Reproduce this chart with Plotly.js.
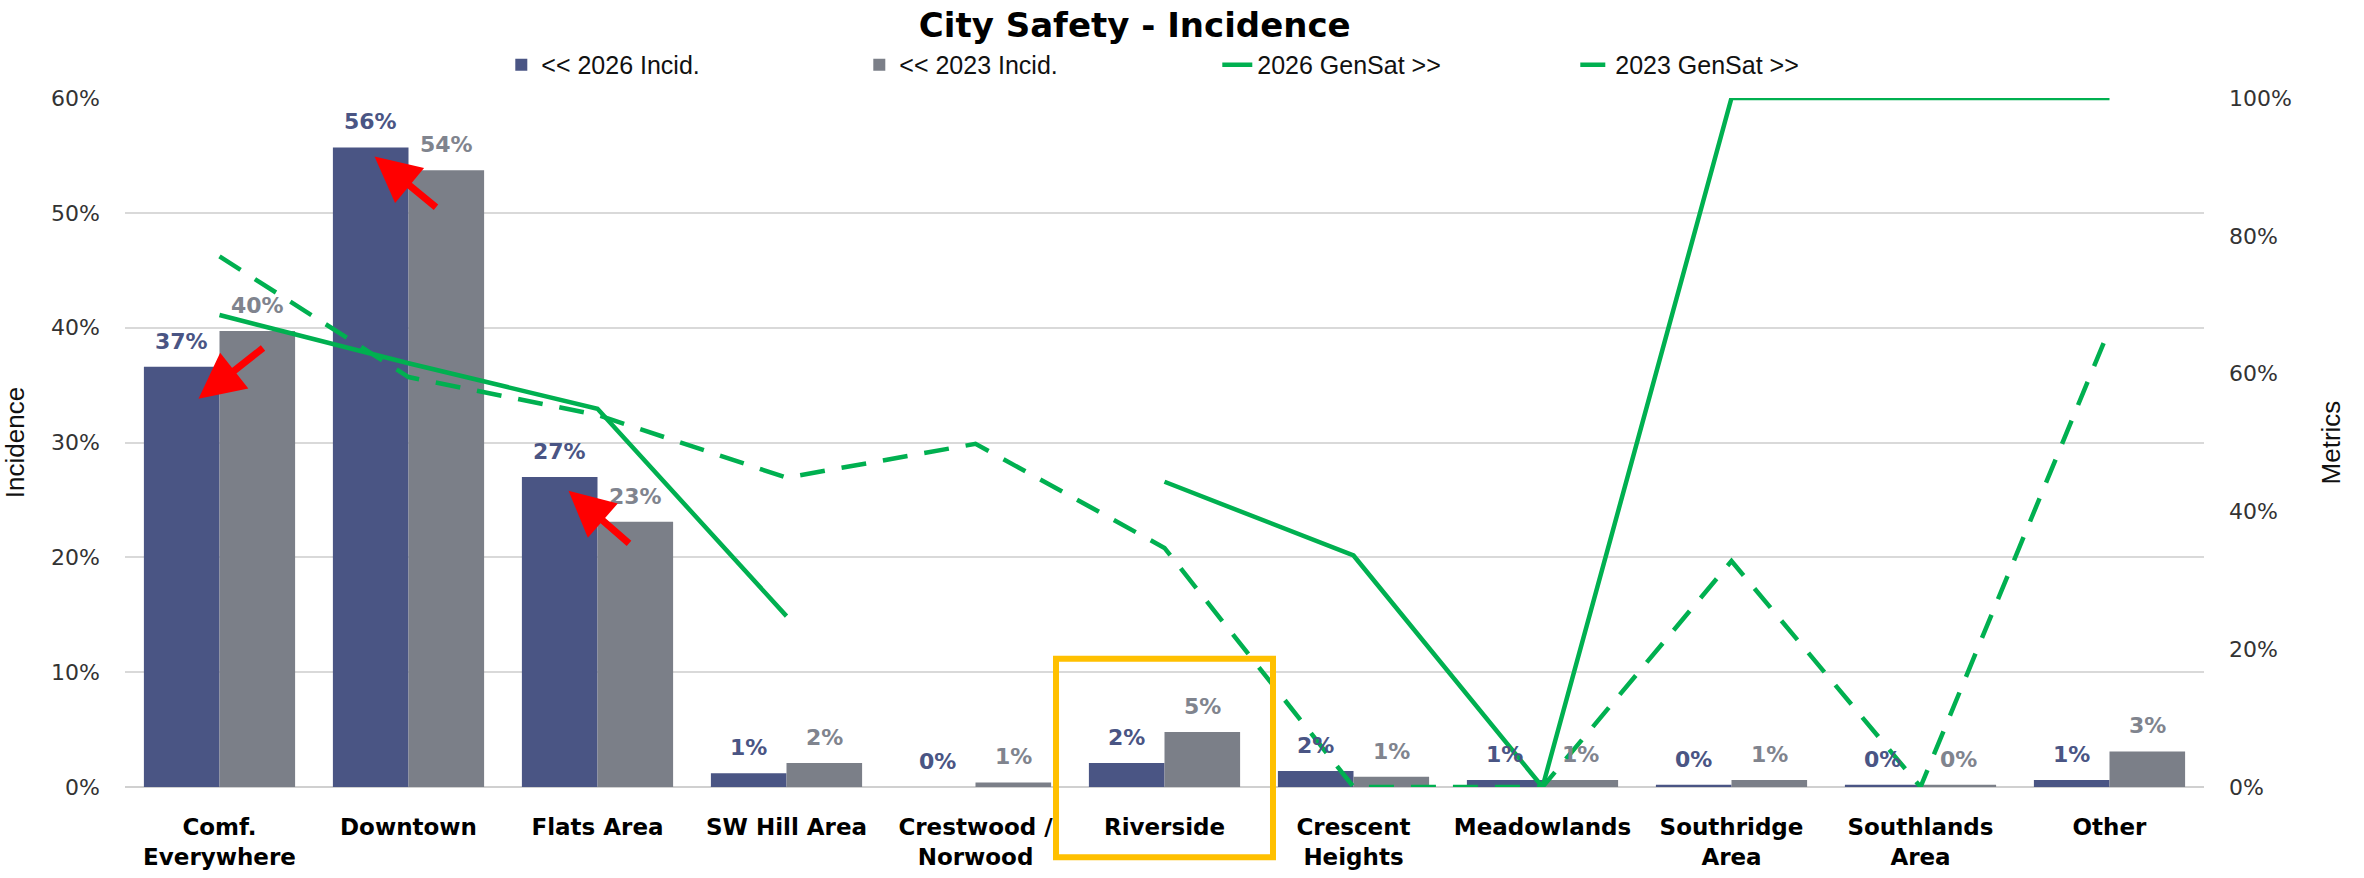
<!DOCTYPE html>
<html>
<head>
<meta charset="utf-8">
<script src="https://cdn.plot.ly/plotly-3.0.1.min.js"></script>
<style>html,body{margin:0;padding:0;background:#fff;}#chart{width:2364px;height:878px;}</style>
</head>
<body>
<div id="chart"></div>
<script>
// ---- data ----
const categories = ['Comf.<br>Everywhere','Downtown','Flats Area','SW Hill Area','Crestwood /<br>Norwood','Riverside','Crescent<br>Heights','Meadowlands','Southridge<br>Area','Southlands<br>Area','Other'];
const incid2026 = [0.366, 0.557, 0.270, 0.012, 0.000, 0.021, 0.014, 0.006, 0.002, 0.002, 0.006];
const incid2023 = [0.397, 0.537, 0.231, 0.021, 0.004, 0.048, 0.009, 0.006, 0.006, 0.002, 0.031];
const labels2026 = ['37%','56%','27%','1%','0%','2%','2%','1%','0%','0%','1%'];
const labels2023 = ['40%','54%','23%','2%','1%','5%','1%','1%','1%','0%','3%'];
const genSat2026 = [0.685, 0.615, 0.549, 0.248, null, 0.443, 0.336, 0.0, 1.0, 1.0, 1.0];
const genSat2023 = [0.770, 0.595, 0.540, 0.449, 0.498, 0.347, 0.0, 0.0, 0.328, 0.0, 0.665];
const leftTicks = [0, 0.1, 0.2, 0.3, 0.4, 0.5, 0.6];
const rightTicks = [0, 0.2, 0.4, 0.6, 0.8, 1.0];

// ---- styles ----
const C26 = '#4A5584', C23 = '#7B7F88', GREEN = '#00B050';
const WIDE = 'DejaVu Sans, Verdana, sans-serif';
const PLAIN = 'Liberation Sans, Arial, sans-serif';

const traces = [
  {type:'bar', name:'<< 2026 Incid.', x:categories, y:incid2026, marker:{color:C26}, yaxis:'y', hoverinfo:'skip'},
  {type:'bar', name:'<< 2023 Incid.', x:categories, y:incid2023, marker:{color:C23}, yaxis:'y', hoverinfo:'skip'},
  {type:'scatter', mode:'lines', name:'2026 GenSat >>', x:categories, y:genSat2026, yaxis:'y2',
   line:{color:GREEN, width:4.5}, connectgaps:false},
  {type:'scatter', mode:'lines', name:'2023 GenSat >>', x:categories, y:genSat2023, yaxis:'y2',
   line:{color:GREEN, width:4.5, dash:'25px,17px'}}
];

const annotations = [];
categories.forEach((c, i) => {
  annotations.push({x:c, y:incid2026[i], xref:'x', yref:'y', text:labels2026[i], showarrow:false,
    xshift:-37.8, yshift:11, yanchor:'bottom', font:{family:WIDE, size:22, color:'#4A5584', weight:'bold'}});
  annotations.push({x:c, y:incid2023[i], xref:'x', yref:'y', text:labels2023[i], showarrow:false,
    xshift:37.8, yshift:11, yanchor:'bottom', font:{family:WIDE, size:22, color:'#80848E', weight:'bold'}});
});
// red arrows (tip at x/y, tail offset ax/ay in px)
const arrowStyle = {text:'', showarrow:true, arrowhead:2, arrowsize:1.3, arrowwidth:7, arrowcolor:'#FF0000', xref:'x', yref:'y', axref:'pixel', ayref:'pixel'};
annotations.push(Object.assign({}, arrowStyle, {x:categories[0], y:0.338, xshift:-21, ax:66, ay:-52}));
annotations.push(Object.assign({}, arrowStyle, {x:categories[1], y:0.549, xshift:-34, ax:63, ay:52}));
annotations.push(Object.assign({}, arrowStyle, {x:categories[2], y:0.258, xshift:-29, ax:62, ay:54}));

const layout = {
  width:2364, height:878,
  margin:{l:125, r:160, t:98, b:91},
  paper_bgcolor:'#fff', plot_bgcolor:'#fff',
  title:{text:'City Safety - Incidence', x:0.48, xanchor:'center', y:0.971, yanchor:'middle',
         font:{family:WIDE, size:34, color:'#000', weight:'bold'}},
  barmode:'group', bargap:0.2, bargroupgap:0,
  showlegend:true,
  legend:{orientation:'h', x:0.181, xanchor:'left', y:1.048, yanchor:'middle',
          font:{family:PLAIN, size:25, color:'#111'}, entrywidth:313, entrywidthmode:'pixels',
          traceorder:'normal', bgcolor:'rgba(0,0,0,0)'},
  xaxis:{type:'category', tickfont:{family:WIDE, size:23, color:'#000', weight:'bold'},
         showline:false, ticks:'', ticklabelstandoff:24, fixedrange:true},
  yaxis:{range:[0,0.6], tickvals:leftTicks, tickformat:'.0%', showgrid:true, gridcolor:'#D9D9D9', gridwidth:2,
         zeroline:true, zerolinecolor:'#D0D0D0', zerolinewidth:2, showline:false, ticks:'',
         tickfont:{family:WIDE, size:22, color:'#333'}, ticklabelstandoff:24,
         title:{text:'Incidence', font:{family:PLAIN, size:26, color:'#111'}, standoff:18}},
  yaxis2:{range:[0,1], tickvals:rightTicks, tickformat:'.0%', overlaying:'y', side:'right', showgrid:false,
          zeroline:false, showline:false, ticks:'', tickfont:{family:WIDE, size:22, color:'#333'}, ticklabelstandoff:24,
          title:{text:'Metrics', font:{family:PLAIN, size:26, color:'#111'}, standoff:30}},
  shapes:[{type:'rect', xref:'x', yref:'paper', x0:4.426, x1:5.574, y0:-0.102, y1:0.186,
           line:{color:'#FFC000', width:6}, fillcolor:'rgba(0,0,0,0)', layer:'above'}],
  annotations:annotations
};

Plotly.newPlot('chart', traces, layout, {displayModeBar:false, staticPlot:true});
</script>
</body>
</html>
